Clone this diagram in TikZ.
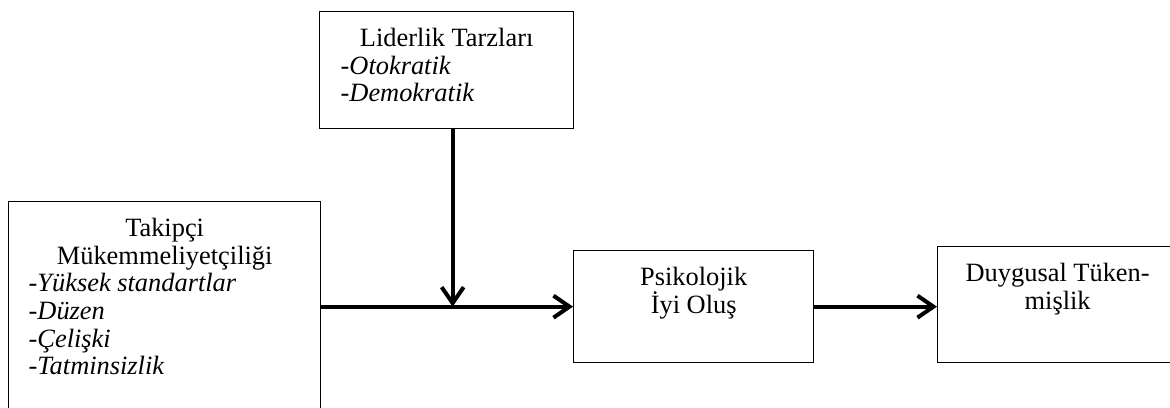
\documentclass[tikz,border=0pt]{standalone}
\usepackage{fontspec}
\setmainfont{Liberation Serif}
\usetikzlibrary{arrows.meta,calc}
% box text: width, height, content (first baseline set by the strut)
\newcommand{\kutuyazi}[3]{\begin{minipage}[t][#2][t]{#1}\rule{0pt}{17.5pt}#3\par\end{minipage}}

\begin{document}
\begin{tikzpicture}[x=0.5pt,y=-0.5pt,
    kutu/.style={draw,line width=0.65pt,inner sep=0pt,anchor=north west,font=\fontsize{13.2}{13.8}\selectfont},
    ok/.style={-{Straight Barb[length=8pt,width=11pt]},line width=2pt}
  ]
  \clip (0,0) rectangle (1170,407);
  \node[kutu] (T) at (8,201) {\kutuyazi{156pt}{125pt}{\centering Takipçi\\Mükemmeliyetçiliği\par
      \raggedright\leftskip=10pt -\textit{Yüksek standartlar}\\-\textit{Düzen}\\-\textit{Çelişki}\\-\textit{Tatminsizlik}}};
  \node[kutu] (L) at (319,11) {\kutuyazi{127pt}{58.5pt}{\centering Liderlik Tarzları\par
      \raggedright\leftskip=10.5pt -\textit{Otokratik}\\-\textit{Demokratik}}};
  \node[kutu] (P) at (573,250) {\kutuyazi{120pt}{56pt}{\centering Psikolojik\\İyi Oluş}};
  \node[kutu] (D) at (937,246) {\kutuyazi{120pt}{58pt}{\centering Duygusal Tüken-\\mişlik}};
  \coordinate (kesisim) at ($(P.west -| L.south)+(6,0)$);
  \draw[ok] (P.west -| T.east) -- (P.west);
  \draw[ok] (L.south -| kesisim) -- (kesisim);
  \draw[ok] (P.east) -- (P.east -| D.west);
\end{tikzpicture}
\end{document}
